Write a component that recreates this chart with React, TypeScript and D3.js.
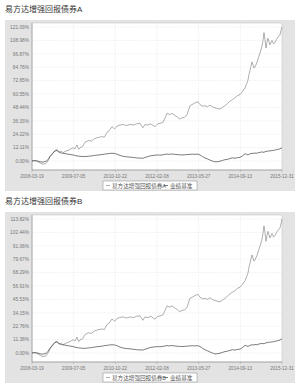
import { line, scaleLinear, scaleTime, timeParse } from "d3";

const parseDate = timeParse("%Y-%m-%d");

const dates = [
  "2008-03-19", "2008-04-20", "2008-05-25", "2008-06-25", "2008-07-22",
  "2008-08-25", "2008-09-20", "2008-10-10", "2008-11-10", "2008-12-05",
  "2008-12-28", "2009-01-20", "2009-02-15", "2009-03-06", "2009-04-10",
  "2009-05-15", "2009-06-28", "2009-07-20", "2009-08-13", "2009-09-01",
  "2009-09-16", "2009-10-15", "2009-11-12", "2009-12-20", "2010-01-25",
  "2010-02-25", "2010-03-28", "2010-05-24", "2010-06-20", "2010-07-20",
  "2010-08-15", "2010-09-15", "2010-10-15", "2010-11-10", "2010-12-15",
  "2011-01-20", "2011-02-25", "2011-04-07", "2011-05-15", "2011-06-20",
  "2011-07-30", "2011-09-02", "2011-09-25", "2011-10-29", "2011-12-01",
  "2012-01-17", "2012-02-15", "2012-03-13", "2012-04-17", "2012-05-10",
  "2012-06-01", "2012-07-01", "2012-07-28", "2012-08-25", "2012-09-23",
  "2012-10-20", "2012-11-19", "2012-12-15", "2013-01-14", "2013-02-17",
  "2013-03-15", "2013-04-15", "2013-05-19", "2013-06-11", "2013-07-10",
  "2013-08-07", "2013-09-05", "2013-10-03", "2013-10-30", "2013-11-29",
  "2013-12-25", "2014-01-25", "2014-02-22", "2014-03-22", "2014-04-20",
  "2014-05-18", "2014-06-15", "2014-07-14", "2014-08-10", "2014-09-09",
  "2014-10-05", "2014-11-05", "2014-11-25", "2014-12-09", "2014-12-20",
  "2015-01-01", "2015-01-24", "2015-02-04", "2015-02-15", "2015-02-27",
  "2015-03-21", "2015-04-05", "2015-04-25", "2015-05-15", "2015-05-29",
  "2015-06-09", "2015-06-20", "2015-07-02", "2015-07-15", "2015-07-24",
  "2015-08-16", "2015-09-08", "2015-09-25", "2015-10-12", "2015-10-30",
  "2015-11-15", "2015-12-08", "2015-12-20", "2015-12-31",
];

const fundA = [
  0, 0.5, -0.8, -2.0, -3.0, -2.2, 0.5, 4.0, 7.0, 9.5,
  10.5, 8.0, 9.0, 7.5, 9.0, 10.0, 12.0, 11.0, 14.5, 10.5,
  12.0, 13.0, 17.0, 18.5, 18.0, 20.0, 21.0, 22.0, 21.5, 26.0,
  27.5, 31.0, 29.0, 31.5, 32.5, 33.0, 32.0, 33.0, 32.5, 33.5,
  34.0, 30.0, 33.0, 32.5, 33.5, 31.0, 33.5, 34.0, 35.0, 39.0,
  43.0, 42.0, 43.0, 41.5, 40.0, 38.0, 39.0, 39.5, 41.5, 50.0,
  51.0, 52.5, 53.5, 51.0, 49.5, 50.0, 49.0, 50.5, 49.0, 48.0,
  47.5, 47.0, 48.5, 50.0, 52.0, 54.0, 55.5, 57.0, 59.0, 60.0,
  62.5, 66.0, 70.0, 73.0, 78.0, 82.0, 89.5, 87.0, 84.0, 85.0,
  89.0, 93.0, 97.5, 103.0, 109.0, 116.0, 110.0, 102.0, 108.0, 111.0,
  105.0, 109.0, 106.0, 107.0, 110.0, 112.0, 114.0, 118.0, 121.09,
];

const fundB = [
  0, 0.4, -0.9, -2.1, -3.1, -2.4, 0.3, 3.7, 6.6, 9.0,
  9.9, 7.5, 8.4, 7.0, 8.4, 9.3, 11.2, 10.2, 13.5, 9.7,
  11.1, 12.0, 15.8, 17.2, 16.7, 18.6, 19.5, 20.4, 19.9, 24.2,
  25.6, 28.9, 27.0, 29.3, 30.2, 30.7, 29.7, 30.6, 30.1, 31.1,
  31.6, 27.8, 30.6, 30.1, 31.1, 28.7, 31.0, 31.5, 32.4, 36.2,
  40.0, 39.0, 40.0, 38.5, 37.1, 35.2, 36.1, 36.6, 38.5, 46.5,
  47.4, 48.8, 49.8, 47.4, 46.0, 46.5, 45.5, 46.9, 45.5, 44.5,
  44.0, 43.5, 45.0, 46.4, 48.3, 50.2, 51.6, 53.0, 54.9, 55.8,
  58.1, 61.4, 65.1, 67.9, 72.6, 76.3, 83.3, 80.9, 78.1, 79.0,
  82.8, 86.5, 90.7, 95.9, 101.5, 108.0, 102.4, 94.9, 100.5, 103.3,
  97.7, 101.5, 98.6, 99.6, 102.4, 104.2, 106.1, 109.8, 113.82,
];

const benchmark = [
  0, 0.3, 0.0, -0.8, -1.0, -0.3, 1.5, 4.0, 7.0, 9.0,
  9.5, 8.0, 7.2, 7.0, 6.5, 6.0, 5.5, 5.0, 4.6, 4.4,
  4.2, 4.0, 4.0, 4.3, 4.6, 5.0, 5.3, 5.8, 6.2, 6.5,
  6.8, 7.0, 6.8, 6.2, 5.0, 4.2, 3.8, 3.5, 3.2, 2.8,
  2.6, 2.5, 3.2, 4.0, 4.8, 5.2, 5.5, 5.3, 5.6, 6.0,
  6.3, 6.0, 6.4, 6.0, 5.8, 5.6, 5.5, 5.6, 5.8, 6.0,
  6.2, 6.0, 6.2, 5.5, 4.0, 2.8, 1.8, 0.8, 0.0, -0.8,
  -0.6, -0.2, 0.5, 1.2, 1.5, 2.2, 2.8, 2.5, 3.0, 3.2,
  4.5, 6.5, 6.0, 5.5, 6.0, 6.5, 7.0, 6.8, 7.0, 7.2,
  7.0, 7.5, 7.8, 8.2, 8.0, 7.8, 8.3, 8.8, 8.6, 9.0,
  9.2, 9.4, 9.6, 9.9, 10.2, 10.5, 11.0, 11.5, 12.0,
];

const xTickLabels = [
  "2008-03-19", "2009-07-05", "2010-10-22", "2012-02-08",
  "2013-05-27", "2014-09-13", "2015-12-31",
];

const titles = ["易方达增强回报债券A", "易方达增强回报债券B"];
const benchmarkName = "业绩基准";
const yTopTicks = [121.09, 113.82];

const FONT = "'Liberation Sans', 'Noto Sans CJK SC', sans-serif";
const PLOT_LEFT = 32;
const PLOT_RIGHT = 282;

function Chart({ top, title, fund, yTop }) {
  const plotTop = top + 23;
  const plotBottom = top + 170;
  const zeroY = plotBottom - 9;
  const topTickY = plotTop + 4;

  const yScale = scaleLinear()
    .domain([0, yTop])
    .range([zeroY, topTickY]);
  const xScale = scaleTime()
    .domain([parseDate(dates[0]), parseDate(dates[dates.length - 1])])
    .range([PLOT_LEFT, PLOT_RIGHT]);

  const yTicks = Array.from({ length: 11 }, (_, i) => (yTop / 10) * i);
  const parsed = dates.map((d) => parseDate(d));

  const gen = line()
    .x((d) => xScale(d[0]))
    .y((d) => yScale(d[1]));
  const fundPath = gen(parsed.map((d, i) => [d, fund[i]]));
  const benchPath = gen(parsed.map((d, i) => [d, benchmark[i]]));

  return (
    <g>
      <text x={5} y={top + 12} fontSize={8} fill="#333" fontFamily={FONT}>
        {title}
      </text>
      <rect x={5} y={top + 20} width={290} height={171} fill="#e3e3e3" />
      <rect
        x={PLOT_LEFT}
        y={plotTop}
        width={PLOT_RIGHT - PLOT_LEFT}
        height={plotBottom - plotTop}
        fill="#fff"
        stroke="#c8c8c8"
        strokeWidth={0.6}
      />
      {yTicks.map((t) => (
        <g key={t}>
          <line
            x1={PLOT_LEFT}
            x2={PLOT_RIGHT}
            y1={yScale(t)}
            y2={yScale(t)}
            stroke="#e2e2e2"
            strokeWidth={0.5}
            strokeDasharray="1.5,1"
          />
          <text
            x={PLOT_LEFT - 3}
            y={yScale(t) + 1.7}
            fontSize={4.8}
            textAnchor="end"
            fill="#777"
            fontFamily={FONT}
          >
            {t.toFixed(2)}%
          </text>
        </g>
      ))}
      {xTickLabels.map((label) => {
        const x = xScale(parseDate(label));
        return (
          <g key={label}>
            <line
              x1={x}
              x2={x}
              y1={plotTop}
              y2={plotBottom}
              stroke="#e2e2e2"
              strokeWidth={0.5}
              strokeDasharray="1.5,1"
            />
            <line x1={x} x2={x} y1={plotBottom} y2={plotBottom + 2} stroke="#999" strokeWidth={0.5} />
            <text
              x={x}
              y={plotBottom + 8}
              fontSize={4.6}
              textAnchor="middle"
              fill="#777"
              fontFamily={FONT}
            >
              {label}
            </text>
          </g>
        );
      })}
      <line x1={PLOT_LEFT} x2={PLOT_LEFT} y1={plotTop} y2={plotBottom} stroke="#999" strokeWidth={0.7} />
      <line x1={PLOT_LEFT} x2={PLOT_RIGHT} y1={plotBottom} y2={plotBottom} stroke="#999" strokeWidth={0.7} />
      <path d={fundPath} fill="none" stroke="#8c8c8c" strokeWidth={0.7} />
      <path d={benchPath} fill="none" stroke="#444" strokeWidth={0.7} />
      <rect x={103} y={top + 181} width={94} height={9} fill="#fff" stroke="#888" strokeWidth={0.5} />
      <line x1={106} x2={110} y1={top + 185.5} y2={top + 185.5} stroke="#8c8c8c" strokeWidth={0.7} />
      <text x={112} y={top + 187.5} fontSize={5.6} fill="#555" fontFamily={FONT}>
        {title}
      </text>
      <line x1={164} x2={168} y1={top + 185.5} y2={top + 185.5} stroke="#444" strokeWidth={0.7} />
      <text x={170} y={top + 187.5} fontSize={5.6} fill="#555" fontFamily={FONT}>
        {benchmarkName}
      </text>
    </g>
  );
}

export default function App() {
  return (
    <svg
      width={300}
      height={388}
      viewBox="0 0 300 388"
      style={{ position: "absolute", left: 0, top: 0, background: "#fff" }}
    >
      <Chart top={0} title={titles[0]} fund={fundA} yTop={yTopTicks[0]} />
      <Chart top={192} title={titles[1]} fund={fundB} yTop={yTopTicks[1]} />
    </svg>
  );
}
